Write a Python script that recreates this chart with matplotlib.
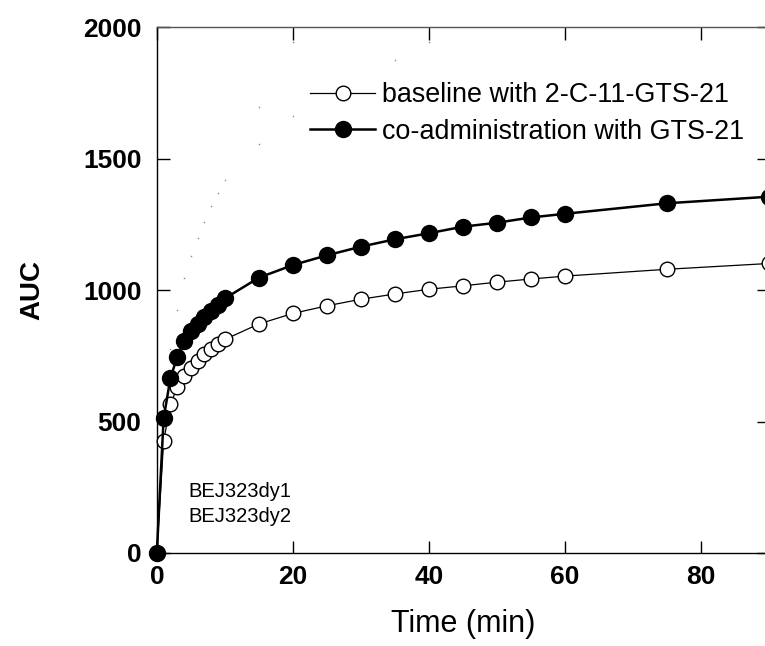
import matplotlib
matplotlib.use("Agg")
import matplotlib.pyplot as plt

plt.rcParams['font.family'] = ['Liberation Sans', 'DejaVu Sans']

# Data
time = [0, 1, 2, 3, 4, 5, 6, 7, 8, 9, 10, 15, 20, 25, 30, 35, 40, 45, 50, 55, 60, 75, 90]
baseline = [0, 425, 565, 630, 675, 705, 730, 755, 775, 795, 812, 871, 911, 940, 965, 985,
            1003, 1016, 1030, 1042, 1053, 1079, 1101]
coadmin = [0, 512, 665, 746, 808, 845, 872, 898, 920, 945, 968, 1047, 1095, 1132, 1165, 1193,
           1216, 1241, 1256, 1276, 1290, 1330, 1355]
# faint stray dots
faint_t = [2, 3, 4, 5, 6, 7, 8, 9, 10, 15, 15, 20, 20, 35, 40]
faint_v = [776, 924, 1046, 1129, 1198, 1259, 1319, 1369, 1418, 1555, 1696, 1662, 1943, 1875, 1943]

labels = ["baseline with 2-C-11-GTS-21", "co-administration with GTS-21"]
annot = ["BEJ323dy1", "BEJ323dy2"]

fig = plt.figure(figsize=(7.65, 6.46), dpi=100)
ax = fig.add_axes([0.205, 0.144, 1.005 - 0.205, 0.958 - 0.144])

ax.plot(faint_t, faint_v, linestyle='none', marker='s', markersize=1.0,
        color='#888888', markeredgewidth=0)
ax.plot(time, baseline, color='black', linewidth=0.9, marker='o', markersize=10.5,
        markerfacecolor='white', markeredgecolor='black', markeredgewidth=1.0,
        label=labels[0], zorder=3)
ax.plot(time, coadmin, color='black', linewidth=1.8, marker='o', markersize=11.5,
        markerfacecolor='black', markeredgecolor='black', label=labels[1], zorder=4)

ax.set_xlim(0, 90)
ax.set_ylim(0, 2000)
ax.set_xticks([0, 20, 40, 60, 80])
ax.set_yticks([0, 500, 1000, 1500, 2000])
for lbl in ax.get_xticklabels() + ax.get_yticklabels():
    lbl.set_fontweight('bold')
ax.tick_params(direction='in', length=9, width=1, labelsize=19, top=True, right=True)
ax.tick_params(axis='y', pad=11)
ax.tick_params(axis='x', pad=9)

for s in ax.spines.values():
    s.set_linewidth(1.0)
    s.set_color('black')
ax.spines['top'].set_color('#555555')

for sp in ['left', 'bottom', 'top', 'right']:
    ax.spines[sp].set_clip_on(False)
for artist in ax.lines:
    artist.set_clip_on(False)

ax.set_xlabel("Time (min)", fontsize=22, labelpad=14)
ax.set_ylabel("AUC", fontsize=20, fontweight='bold', labelpad=27)

ax.text(4.6, 232, annot[0], fontsize=14.5, ha='left', va='center')
ax.text(4.6, 137, annot[1], fontsize=14.5, ha='left', va='center')

leg = ax.legend(loc='upper right', bbox_to_anchor=(0.977, 0.916), frameon=False, fontsize=19.4,
                handlelength=2.4, handletextpad=0.25, labelspacing=0.4, borderaxespad=0)

fig.savefig("out.png", dpi=100)
